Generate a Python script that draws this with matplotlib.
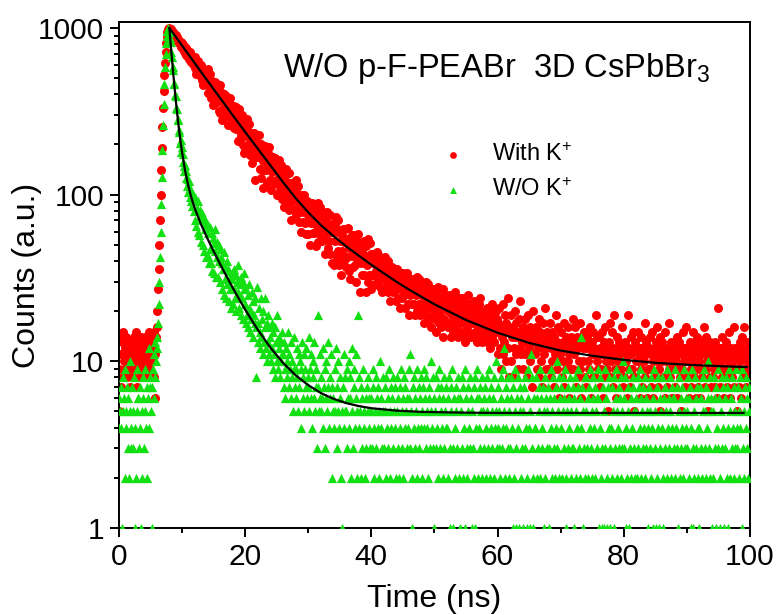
import numpy as np
import matplotlib
matplotlib.use("Agg")
import matplotlib.pyplot as plt
from matplotlib.ticker import MultipleLocator, LogLocator, FixedLocator, NullFormatter

plt.rcParams['font.family'] = ['Liberation Sans', 'DejaVu Sans']
plt.rcParams['mathtext.fontset'] = 'custom'
plt.rcParams['mathtext.rm'] = 'Liberation Sans'
plt.rcParams['mathtext.default'] = 'regular'

# channel width of the TCSPC histogram (ns)
dt = 0.1

# W/O K+ : counts per channel, 0.0 - 99.9 ns
green_counts = [
    6, 4, 5, 7, 4, 1, 8, 5, 6, 2, 9, 4, 5, 7, 3, 6, 2, 10, 5, 4,
    3, 7, 5, 3, 8, 1, 4, 2, 9, 5, 6, 6, 3, 7, 4, 1, 5, 2, 8, 6,
    3, 5, 9, 4, 7, 2, 6, 12, 4, 8, 7, 5, 1, 7, 9, 6, 11, 8, 13, 10,
    12, 14, 17, 22, 30, 42, 60, 88, 128, 185, 260, 350, 460, 580, 700, 810, 900, 960, 1000, 975,
    940, 870, 820, 715, 672, 580, 560, 470, 462, 398, 390, 330, 325, 281, 284, 238, 246, 205, 214, 180,
    192, 158, 175, 149, 138, 151, 126, 139, 113, 125, 104, 121, 97, 110, 92, 104, 85, 99, 93, 80,
    97, 70, 93, 65, 83, 60, 92, 57, 81, 74, 52, 78, 71, 50, 74, 46, 69, 62, 42, 68,
    65, 43, 59, 39, 64, 47, 39, 59, 35, 55, 51, 34, 62, 46, 32, 52, 42, 32, 50, 40,
    47, 30, 42, 27, 39, 36, 25, 45, 31, 36, 24, 40, 29, 36, 23, 35, 27, 32, 21, 34,
    31, 22, 36, 27, 24, 33, 20, 30, 26, 38, 21, 25, 29, 19, 32, 24, 30, 18, 27, 34,
    22, 17, 27, 19, 16, 25, 21, 29, 15, 20, 18, 26, 14, 23, 19, 17, 24, 16, 8, 28,
    17, 13, 21, 15, 12, 24, 14, 18, 11, 20, 13, 16, 24, 12, 17, 10, 19, 13, 11, 16,
    14, 10, 17, 12, 9, 15, 11, 8, 16, 13, 10, 19, 9, 12, 14, 8, 13, 10, 15, 11,
    11, 7, 13, 9, 6, 12, 8, 10, 15, 7, 11, 9, 6, 13, 8, 10, 5, 14, 9, 7,
    9, 6, 12, 8, 5, 11, 7, 10, 4, 9, 13, 6, 8, 11, 5, 9, 7, 12, 6, 8,
    7, 14, 5, 9, 6, 11, 4, 8, 10, 6, 13, 5, 7, 9, 3, 19, 7, 5, 11, 6,
    5, 8, 6, 12, 4, 7, 9, 3, 6, 10, 5, 13, 7, 4, 8, 6, 11, 2, 7, 5,
    6, 4, 9, 5, 12, 3, 7, 5, 10, 4, 6, 8, 2, 5, 1, 7, 4, 11, 5, 8,
    5, 9, 3, 6, 10, 4, 8, 6, 2, 12, 5, 3, 7, 9, 4, 6, 11, 5, 2, 19,
    4, 8, 5, 2, 7, 3, 6, 9, 4, 5, 2, 6, 3, 7, 5, 8, 4, 6, 3, 5,
    6, 3, 9, 7, 4, 2, 5, 8, 3, 6, 4, 7, 2, 5, 10, 4, 6, 3, 8, 5,
    3, 7, 5, 2, 8, 4, 6, 3, 9, 5, 2, 7, 4, 6, 3, 8, 5, 4, 7, 2,
    5, 8, 3, 6, 2, 7, 4, 9, 5, 3, 6, 2, 8, 4, 7, 5, 3, 6, 4, 9,
    6, 3, 11, 5, 2, 1, 7, 4, 8, 3, 6, 5, 2, 9, 4, 7, 3, 6, 8, 4,
    5, 2, 7, 4, 9, 6, 3, 8, 4, 5, 2, 6, 7, 3, 10, 5, 4, 8, 3, 6,
    1, 5, 3, 8, 4, 7, 2, 6, 9, 3, 5, 7, 4, 2, 6, 8, 3, 5, 4, 7,
    4, 6, 2, 8, 3, 1, 7, 5, 9, 3, 1, 6, 4, 2, 7, 5, 3, 8, 6, 2,
    6, 1, 5, 3, 8, 2, 7, 4, 1, 9, 6, 3, 2, 5, 7, 4, 8, 3, 6, 1,
    5, 3, 7, 2, 8, 1, 4, 6, 9, 2, 6, 4, 3, 7, 5, 8, 2, 5, 3, 6,
    7, 4, 2, 5, 8, 3, 6, 9, 2, 4, 7, 5, 3, 6, 2, 8, 4, 5, 10, 3,
    4, 7, 3, 5, 2, 8, 6, 3, 9, 4, 5, 12, 2, 7, 4, 6, 3, 8, 5, 2,
    3, 6, 8, 4, 1, 7, 2, 5, 9, 1, 3, 6, 8, 4, 1, 7, 5, 2, 6, 3,
    5, 1, 7, 3, 8, 4, 1, 2, 6, 9, 4, 1, 5, 11, 3, 8, 2, 1, 6, 4,
    4, 8, 2, 6, 3, 7, 5, 9, 2, 6, 4, 3, 7, 1, 5, 8, 2, 6, 3, 5,
    7, 1, 3, 6, 9, 4, 2, 5, 8, 3, 6, 2, 7, 4, 10, 3, 5, 8, 2, 6,
    4, 7, 2, 5, 8, 3, 6, 9, 2, 1, 5, 7, 3, 6, 4, 8, 2, 5, 3, 7,
    3, 6, 1, 8, 2, 5, 4, 7, 9, 3, 6, 2, 14, 4, 7, 5, 1, 3, 8, 2,
    5, 8, 3, 6, 2, 7, 4, 9, 3, 5, 2, 6, 8, 4, 7, 2, 5, 3, 6, 9,
    6, 1, 4, 8, 2, 1, 3, 7, 5, 1, 9, 3, 6, 2, 1, 7, 4, 8, 3, 1,
    4, 7, 2, 5, 1, 8, 3, 6, 9, 2, 5, 4, 7, 3, 6, 2, 8, 5, 3, 10,
    3, 6, 8, 1, 4, 2, 7, 5, 1, 9, 3, 6, 2, 4, 7, 8, 3, 5, 2, 6,
    5, 2, 8, 3, 7, 4, 9, 6, 2, 5, 3, 7, 4, 8, 2, 6, 3, 5, 1, 4,
    7, 3, 5, 2, 8, 4, 1, 6, 9, 3, 5, 1, 7, 2, 4, 8, 1, 6, 3, 5,
    4, 8, 2, 1, 6, 3, 7, 5, 9, 2, 4, 6, 3, 8, 5, 2, 7, 4, 6, 3,
    6, 2, 9, 4, 7, 3, 1, 5, 8, 2, 6, 3, 7, 4, 2, 5, 9, 3, 6, 4,
    5, 3, 8, 2, 6, 7, 1, 4, 9, 3, 1, 5, 2, 8, 6, 3, 7, 4, 2, 1,
    4, 7, 3, 6, 2, 8, 5, 9, 3, 5, 2, 7, 4, 6, 10, 3, 8, 2, 5, 6,
    1, 5, 2, 8, 3, 6, 1, 7, 4, 9, 3, 6, 2, 1, 5, 8, 3, 7, 4, 1,
    6, 3, 8, 2, 7, 1, 4, 9, 5, 2, 6, 3, 8, 4, 2, 7, 5, 3, 9, 4,
    3, 7, 5, 2, 8, 4, 6, 1, 9, 3, 5, 2, 7, 4, 8, 3, 6, 2, 5, 7,
]

# With K+ : counts per channel, 0.0 - 99.9 ns
red_counts = [
    5, 9, 14, 7, 11, 13, 8, 15, 10, 12, 9, 11, 14, 8, 13, 10, 12, 7, 11, 9,
    13, 10, 8, 12, 14, 9, 11, 15, 7, 12, 10, 13, 9, 11, 8, 14, 12, 10, 13, 9,
    11, 14, 9, 12, 8, 13, 10, 15, 12, 9, 11, 14, 10, 13, 12, 8, 15, 11, 6, 14,
    16, 20, 27, 36, 50, 70, 100, 140, 190, 255, 330, 420, 520, 620, 720, 810, 885, 945, 985, 1000,
    990, 968, 985, 930, 962, 925, 951, 890, 921, 880, 903, 850, 878, 841, 860, 812, 839, 801, 822, 770,
    812, 748, 790, 725, 781, 712, 760, 690, 741, 671, 728, 650, 715, 640, 692, 627, 680, 605, 660, 598,
    669, 576, 615, 533, 624, 572, 637, 522, 579, 529, 600, 490, 537, 555, 458, 535, 493, 540, 464, 496,
    473, 570, 410, 495, 428, 532, 380, 450, 481, 344, 459, 402, 473, 368, 418, 461, 360, 406, 318, 426,
    454, 311, 377, 407, 280, 387, 335, 403, 304, 351, 393, 298, 343, 260, 361, 309, 381, 263, 327, 278,
    328, 279, 342, 251, 296, 334, 247, 288, 211, 305, 258, 326, 217, 275, 230, 302, 199, 247, 269, 178,
    184, 266, 224, 284, 189, 240, 201, 264, 174, 216, 236, 155, 223, 191, 233, 171, 122, 227, 168, 198,
    204, 169, 227, 143, 183, 202, 126, 190, 160, 109, 141, 171, 196, 140, 166, 118, 177, 148, 192, 123,
    169, 106, 161, 136, 168, 120, 143, 165, 118, 140, 100, 150, 125, 162, 103, 135, 111, 150, 94, 120,
    102, 124, 84, 133, 108, 143, 88, 119, 96, 134, 81, 105, 118, 70, 110, 91, 117, 82, 99, 116,
    122, 76, 102, 81, 113, 69, 90, 100, 60, 95, 79, 100, 69, 85, 99, 68, 83, 58, 91, 75,
    58, 78, 89, 50, 84, 68, 89, 59, 75, 87, 59, 73, 49, 81, 65, 89, 52, 73, 58, 84,
    60, 80, 53, 67, 79, 54, 66, 44, 72, 59, 79, 48, 66, 53, 76, 44, 60, 67, 39, 63,
    60, 38, 67, 53, 73, 42, 60, 46, 70, 38, 53, 61, 33, 57, 46, 62, 41, 52, 62, 41,
    37, 54, 42, 63, 35, 48, 54, 31, 53, 43, 57, 37, 48, 57, 38, 47, 30, 52, 41, 58,
    44, 50, 26, 48, 39, 52, 33, 44, 53, 33, 42, 26, 49, 38, 54, 30, 43, 33, 51, 27,
    44, 33, 39, 44, 33, 39, 29, 42, 35, 45, 30, 38, 32, 43, 28, 36, 39, 26, 37, 32,
    39, 32, 42, 27, 36, 30, 40, 26, 33, 36, 23, 35, 29, 37, 26, 32, 36, 27, 32, 23,
    27, 36, 24, 30, 33, 21, 32, 27, 34, 24, 29, 34, 25, 29, 21, 32, 27, 34, 22, 29,
    19, 30, 25, 31, 22, 27, 31, 22, 27, 19, 30, 25, 32, 20, 27, 22, 31, 19, 25, 28,
    30, 21, 25, 17, 28, 23, 30, 19, 26, 21, 29, 18, 23, 26, 16, 25, 21, 27, 19, 23,
    26, 18, 22, 15, 25, 20, 28, 17, 23, 19, 24, 16, 21, 27, 14, 22, 18, 25, 17, 21,
    23, 16, 20, 25, 17, 21, 14, 24, 19, 22, 15, 20, 26, 18, 16, 23, 19, 14, 21, 24,
    17, 22, 15, 19, 24, 14, 20, 17, 23, 13, 19, 21, 16, 25, 15, 18, 20, 14, 22, 17,
    20, 14, 18, 23, 15, 17, 21, 13, 19, 16, 22, 14, 18, 24, 15, 17, 13, 20, 16, 19,
    14, 19, 16, 21, 13, 17, 15, 20, 12, 18, 16, 22, 14, 17, 19, 13, 16, 20, 15, 18,
    17, 11, 16, 21, 12, 15, 9, 14, 22, 11, 16, 13, 19, 10, 17, 15, 24, 12, 16, 8,
    15, 10, 19, 14, 8, 16, 12, 20, 14, 11, 17, 15, 9, 14, 18, 12, 23, 11, 15, 13,
    16, 9, 14, 11, 18, 13, 15, 8, 14, 19, 12, 10, 16, 11, 14, 7, 15, 20, 13, 11,
    13, 16, 9, 14, 12, 18, 8, 13, 15, 10, 14, 7, 17, 13, 11, 21, 12, 9, 13, 15,
    14, 9, 13, 17, 8, 12, 15, 10, 13, 7, 14, 11, 19, 10, 13, 9, 16, 12, 6, 11,
    12, 15, 8, 13, 10, 17, 7, 12, 14, 9, 13, 10, 16, 11, 6, 13, 9, 14, 12, 18,
    9, 13, 11, 16, 7, 12, 14, 8, 12, 10, 17, 9, 13, 6, 14, 10, 12, 15, 8, 13,
    12, 7, 14, 10, 13, 9, 12, 16, 6, 11, 13, 8, 15, 12, 8, 11, 19, 10, 14, 9,
    11, 14, 7, 12, 9, 15, 11, 6, 12, 13, 8, 16, 10, 9, 12, 5, 13, 11, 17, 8,
    10, 12, 15, 7, 11, 19, 9, 12, 6, 11, 14, 10, 13, 8, 12, 9, 10, 16, 12, 7,
    11, 8, 13, 10, 12, 6, 11, 19, 9, 12, 7, 14, 11, 9, 15, 8, 12, 5, 13, 10,
    8, 12, 10, 15, 11, 6, 12, 9, 14, 7, 11, 12, 10, 17, 8, 11, 13, 6, 12, 9,
    12, 9, 14, 7, 11, 15, 10, 6, 12, 11, 8, 13, 10, 16, 7, 11, 9, 14, 5, 12,
    10, 13, 8, 11, 12, 6, 15, 10, 11, 7, 12, 9, 17, 8, 11, 13, 6, 10, 12, 9,
    11, 7, 12, 10, 14, 6, 11, 13, 9, 8, 12, 5, 11, 9, 15, 10, 12, 7, 11, 16,
    8, 12, 10, 11, 6, 13, 9, 7, 12, 11, 15, 8, 10, 13, 6, 11, 14, 9, 7, 12,
    10, 6, 12, 11, 8, 13, 9, 16, 7, 11, 9, 14, 10, 12, 5, 11, 8, 13, 10, 7,
    12, 8, 11, 9, 13, 7, 10, 12, 6, 21, 11, 9, 7, 12, 10, 8, 14, 9, 12, 6,
    9, 11, 13, 7, 8, 12, 10, 15, 9, 6, 12, 8, 11, 10, 16, 7, 12, 9, 11, 5,
    11, 9, 12, 7, 13, 10, 6, 11, 14, 8, 9, 16, 11, 7, 12, 9, 10, 13, 8, 12,
]

# fitted decay curves
red_fit_t = [8, 9, 10, 11, 12, 14, 16, 18, 20, 22, 24, 26, 28, 30, 32, 34, 36, 38, 40,
             42, 44, 46, 48, 50, 55, 60, 65, 70, 75, 80, 85, 90, 95, 99.5]
red_fit_v = [1000, 887, 785, 696, 617, 485, 382, 301, 238, 189, 150, 119, 95.4, 78.3, 65.8,
             56.4, 49, 43.1, 38, 33.7, 30, 26.9, 24.3, 22, 17.7, 14.85, 12.9, 11.6, 10.8,
             10.2, 9.8, 9.54, 9.36, 9.24]

green_fit_t = [8.0, 8.2, 8.4, 8.6, 8.8, 9.0, 9.2, 9.4, 9.6, 9.8, 10.0, 10.5, 11.0, 11.5, 12,
               13, 14, 15, 16, 17, 18, 19, 20, 21, 22, 23, 24, 25, 26, 27, 28, 30, 32, 34,
               36, 38, 40, 44, 48, 55, 60, 80, 99]
green_fit_v = [1000, 809, 659, 541, 448, 375, 317, 271, 234, 204, 181, 139, 113, 95.5, 83.3,
               66.6, 54.9, 45.9, 38.6, 32.7, 27.8, 23.8, 20.5, 17.8, 15.5, 13.7, 12.1, 10.9,
               9.8, 9.0, 8.25, 7.2, 6.45, 5.96, 5.62, 5.39, 5.23, 5.06, 4.97, 4.92, 4.9,
               4.9, 4.9]

t_green = np.arange(len(green_counts)) * dt
t_red = np.arange(len(red_counts)) * dt

fig = plt.figure(figsize=(7.82, 6.15), dpi=100)
ax = fig.add_axes([0.152, 0.1415, 0.807, 0.8228])

ax.scatter(t_red, red_counts, s=42, marker='o', color='#ff0000', linewidths=0,
           label='With K$^{+}$', zorder=2)
ax.scatter(t_green, green_counts, s=44, marker='^', color='#12e012', linewidths=0,
           label='W/O K$^{+}$', zorder=3)
ax.plot(red_fit_t, red_fit_v, color='black', lw=1.6, zorder=4)
ax.plot(green_fit_t, green_fit_v, color='black', lw=1.6, zorder=4)

ax.set_yscale('log')
ax.set_xlim(0, 100)
ax.set_ylim(1, 1087)
ax.xaxis.set_major_locator(MultipleLocator(20))
ax.xaxis.set_minor_locator(MultipleLocator(10))
ax.yaxis.set_major_locator(FixedLocator([1, 10, 100, 1000]))
ax.yaxis.set_major_formatter(plt.FuncFormatter(lambda v, p: '%d' % v))
ax.yaxis.set_minor_locator(LogLocator(base=10, subs=np.arange(2, 10)))
ax.yaxis.set_minor_formatter(NullFormatter())

ax.tick_params(which='both', direction='out', width=1.4, labelsize=21.5,
               top=False, right=False, pad=4)
ax.tick_params(which='major', length=6.5)
ax.tick_params(which='minor', length=3.5)
for sp in ax.spines.values():
    sp.set_linewidth(1.4)

ax.set_xlabel('Time (ns)', fontsize=23, labelpad=10)
ax.set_ylabel('Counts (a.u.)', fontsize=23, labelpad=-3)

ax.text(0.26, 0.891, 'W/O p-F-PEABr  3D CsPbBr$_3$', transform=ax.transAxes,
        fontsize=23.5, va='baseline', ha='left')

leg = ax.legend(loc='upper left', bbox_to_anchor=(0.458, 0.803), frameon=False,
                fontsize=17, markerscale=0.75, handletextpad=0.65, labelspacing=0.53,
                scatterpoints=1)

fig.savefig('out.png', dpi=100)
